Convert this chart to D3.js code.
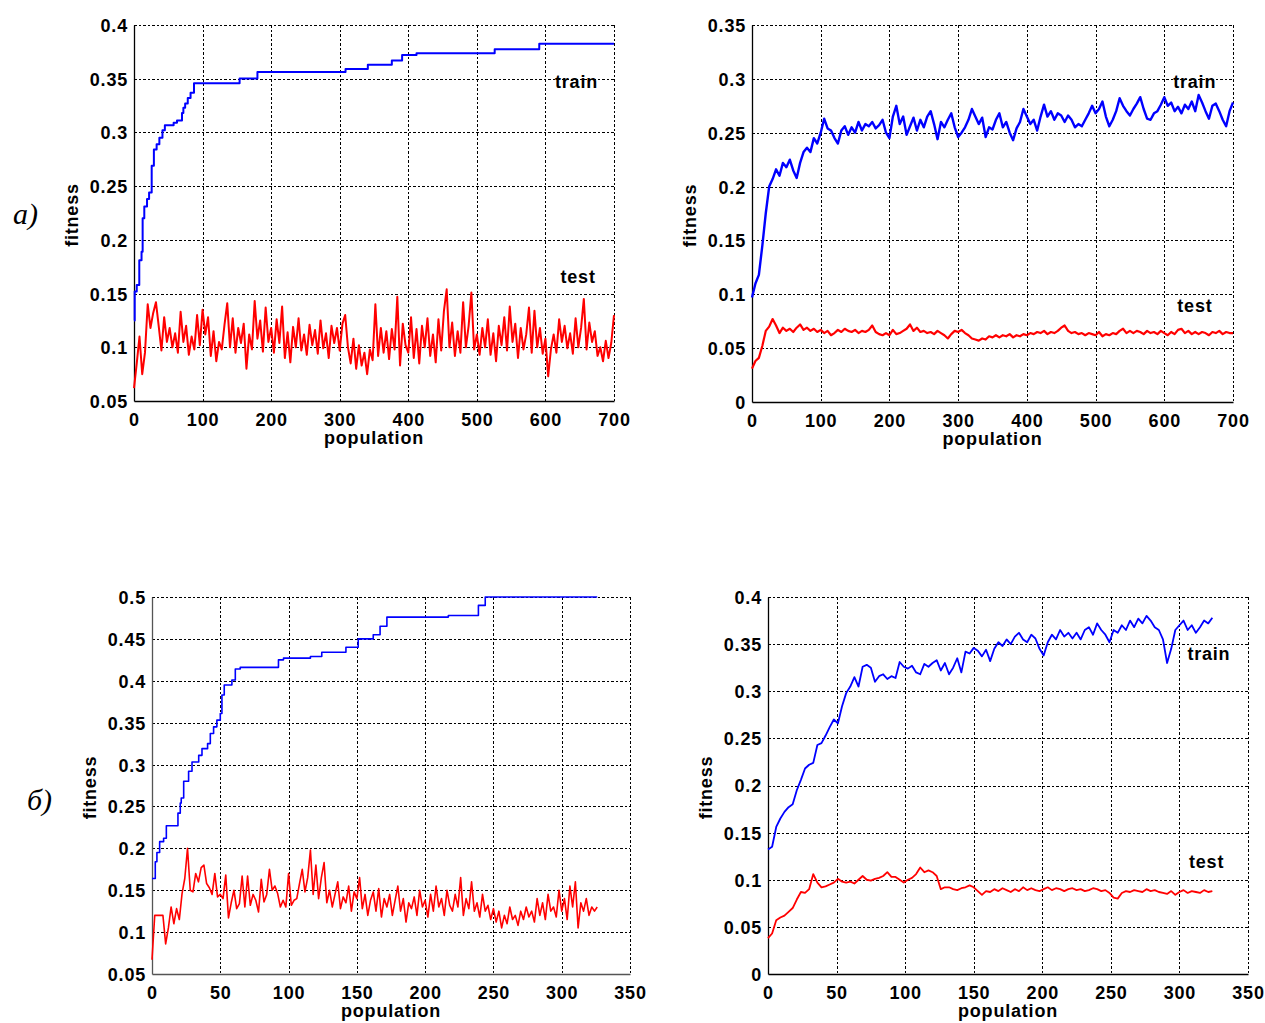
<!DOCTYPE html>
<html><head><meta charset="utf-8">
<script src="https://cdn.jsdelivr.net/npm/d3@7/dist/d3.min.js"></script>
<style>
body{margin:0;background:#fff;}
svg text{font-family:"Liberation Sans",Arial,sans-serif;font-weight:bold;font-size:18px;letter-spacing:0.8px;fill:#000;}
</style></head>
<body><svg id="c" width="1265" height="1023"></svg>
<script>
// ---------- DATA ----------
// Panel a) left: 700 generations
const p1TrainGen = [0,1,4,7.7,11,12.6,15,19,22,25.8,29,33,37,41.5,45,57.8,62.7,70,72,74.6,78.4,82.5,87.5,154,180,308.5,341,376,391,412,526,591,700];
const p1TrainVal = [0.125,0.152,0.158,0.181,0.189,0.22,0.231,0.238,0.244,0.269,0.284,0.289,0.295,0.302,0.3066,0.309,0.311,0.318,0.323,0.327,0.332,0.337,0.3457,0.3503,0.3562,0.359,0.363,0.367,0.372,0.3736,0.3774,0.3826,0.3826];
const p1TestStep = 4;
const p1TestVal = [
0.062,0.085,0.11,0.075,0.095,0.14,0.118,0.132,0.142,0.12,
0.097,0.128,0.105,0.118,0.1,0.113,0.095,0.133,0.105,0.12,
0.093,0.11,0.098,0.13,0.102,0.135,0.112,0.128,0.092,0.115,
0.087,0.105,0.098,0.121,0.141,0.1,0.127,0.095,0.118,0.104,
0.122,0.08,0.112,0.098,0.143,0.108,0.125,0.096,0.137,0.105,
0.118,0.095,0.126,0.104,0.138,0.09,0.114,0.086,0.119,0.1,
0.127,0.097,0.112,0.093,0.121,0.102,0.116,0.094,0.125,0.099,
0.113,0.09,0.12,0.104,0.118,0.097,0.122,0.13,0.1,0.085,
0.108,0.08,0.102,0.083,0.095,0.075,0.098,0.088,0.14,0.092,
0.118,0.095,0.115,0.089,0.117,0.098,0.147,0.083,0.122,0.102,
0.095,0.128,0.09,0.117,0.085,0.12,0.1,0.127,0.092,0.112,
0.086,0.126,0.097,0.134,0.154,0.1,0.123,0.092,0.115,0.095,
0.142,0.1,0.12,0.151,0.098,0.112,0.093,0.118,0.1,0.126,
0.093,0.113,0.087,0.12,0.102,0.128,0.097,0.138,0.105,0.122,
0.09,0.118,0.098,0.112,0.137,0.095,0.134,0.1,0.118,0.094,
0.108,0.073,0.098,0.112,0.095,0.126,0.105,0.12,0.099,0.113,
0.094,0.127,0.1,0.118,0.145,0.098,0.123,0.105,0.115,0.092,
0.1,0.087,0.106,0.09,0.104,0.13];

// Panel a) right
const p2TrainStep = 5;
const p2TrainVal = [
0.097,0.11,0.118,0.145,0.175,0.2,0.207,0.216,0.21,0.222,
0.218,0.225,0.215,0.208,0.222,0.232,0.236,0.232,0.245,0.24,
0.25,0.263,0.254,0.252,0.245,0.24,0.252,0.256,0.248,0.255,
0.25,0.26,0.252,0.258,0.256,0.26,0.254,0.257,0.262,0.25,
0.245,0.265,0.275,0.258,0.265,0.248,0.256,0.264,0.252,0.262,
0.255,0.265,0.27,0.258,0.244,0.26,0.255,0.262,0.268,0.255,
0.246,0.25,0.255,0.262,0.272,0.265,0.258,0.264,0.246,0.255,
0.253,0.262,0.268,0.255,0.26,0.25,0.243,0.254,0.26,0.272,
0.265,0.258,0.262,0.252,0.265,0.276,0.265,0.27,0.262,0.268,
0.266,0.26,0.266,0.262,0.255,0.258,0.256,0.262,0.268,0.275,
0.268,0.272,0.279,0.265,0.256,0.262,0.27,0.282,0.275,0.27,
0.266,0.272,0.277,0.283,0.272,0.263,0.262,0.268,0.27,0.276,
0.283,0.275,0.278,0.27,0.274,0.268,0.276,0.272,0.279,0.27,
0.285,0.278,0.27,0.263,0.275,0.277,0.27,0.262,0.256,0.27,
0.278];
const p2TestStep = 5;
const p2TestVal = [
0.031,0.038,0.041,0.052,0.066,0.07,0.077,0.071,0.064,0.069,
0.066,0.068,0.065,0.069,0.072,0.067,0.069,0.066,0.068,0.065,
0.067,0.064,0.066,0.062,0.064,0.067,0.065,0.068,0.066,0.065,
0.067,0.064,0.066,0.065,0.067,0.071,0.065,0.063,0.062,0.064,
0.062,0.067,0.063,0.064,0.066,0.068,0.072,0.066,0.069,0.065,
0.066,0.064,0.065,0.063,0.066,0.064,0.062,0.059,0.063,0.066,
0.065,0.067,0.064,0.062,0.059,0.058,0.057,0.059,0.058,0.061,
0.06,0.062,0.06,0.062,0.061,0.063,0.06,0.062,0.061,0.063,
0.062,0.064,0.063,0.065,0.064,0.066,0.063,0.065,0.064,0.066,
0.069,0.071,0.066,0.064,0.065,0.063,0.064,0.062,0.064,0.063,
0.062,0.065,0.061,0.063,0.062,0.064,0.063,0.066,0.068,0.064,
0.066,0.064,0.066,0.065,0.063,0.066,0.064,0.065,0.063,0.066,
0.064,0.062,0.065,0.063,0.067,0.068,0.064,0.066,0.063,0.065,
0.063,0.065,0.064,0.062,0.065,0.064,0.066,0.063,0.065,0.064,
0.064];

// Panel б) left: 326 generations
const p3TrainGen = [0,2.4,3.6,5.6,8.5,10.5,19,20.7,21.4,23.2,26.8,29.3,34.2,36.6,40.7,42.7,45.1,47.5,50,51.2,52.9,58.5,61,64.6,92.6,96.3,116,124.3,142,151,162,167,172,217,239,244,326];
const p3TrainVal = [0.164,0.184,0.195,0.208,0.212,0.227,0.242,0.254,0.26,0.28,0.292,0.303,0.311,0.319,0.325,0.337,0.345,0.353,0.361,0.383,0.395,0.401,0.414,0.416,0.425,0.427,0.429,0.434,0.44,0.45,0.455,0.465,0.476,0.478,0.49,0.5,0.5];
const p3TestStep = 2;
const p3TestVal = [
0.067,0.12,0.12,0.12,0.12,0.086,0.105,0.13,0.11,0.128,
0.115,0.146,0.164,0.2,0.15,0.148,0.17,0.16,0.177,0.18,
0.158,0.153,0.145,0.17,0.142,0.145,0.14,0.168,0.117,0.135,
0.15,0.128,0.134,0.167,0.13,0.167,0.132,0.145,0.138,0.124,
0.163,0.136,0.145,0.175,0.15,0.155,0.146,0.13,0.138,0.13,
0.17,0.132,0.138,0.14,0.158,0.175,0.148,0.165,0.198,0.145,
0.18,0.14,0.165,0.183,0.135,0.15,0.13,0.145,0.16,0.128,
0.142,0.135,0.155,0.125,0.148,0.14,0.165,0.128,0.145,0.12,
0.138,0.148,0.125,0.152,0.118,0.14,0.13,0.145,0.12,0.138,
0.155,0.125,0.14,0.112,0.135,0.128,0.142,0.12,0.15,0.13,
0.138,0.118,0.145,0.125,0.155,0.13,0.14,0.12,0.15,0.132,
0.125,0.145,0.13,0.165,0.12,0.14,0.128,0.16,0.125,0.135,
0.118,0.145,0.125,0.132,0.115,0.128,0.112,0.125,0.105,0.12,
0.11,0.13,0.115,0.12,0.108,0.125,0.115,0.13,0.118,0.125,
0.112,0.14,0.12,0.135,0.115,0.145,0.125,0.13,0.118,0.15,
0.125,0.14,0.115,0.155,0.13,0.16,0.105,0.135,0.125,0.14,
0.12,0.13,0.125,0.13];

// Panel б) right
const p4TrainStep = 3;
const p4TrainVal = [
0.132,0.135,0.156,0.165,0.172,0.177,0.18,0.195,0.206,0.218,
0.222,0.224,0.243,0.245,0.253,0.262,0.27,0.266,0.284,0.298,
0.305,0.315,0.305,0.326,0.328,0.325,0.31,0.316,0.318,0.313,
0.316,0.314,0.331,0.326,0.324,0.327,0.32,0.318,0.329,0.326,
0.33,0.333,0.322,0.33,0.318,0.325,0.335,0.32,0.342,0.34,
0.346,0.343,0.337,0.344,0.332,0.345,0.352,0.348,0.355,0.35,
0.358,0.362,0.355,0.352,0.36,0.356,0.345,0.338,0.352,0.36,
0.355,0.365,0.358,0.362,0.356,0.362,0.355,0.365,0.368,0.36,
0.372,0.365,0.36,0.352,0.365,0.362,0.37,0.365,0.375,0.368,
0.377,0.372,0.38,0.375,0.368,0.365,0.355,0.33,0.345,0.365,
0.37,0.375,0.365,0.37,0.362,0.368,0.375,0.372,0.378];
const p4TestStep = 3;
const p4TestVal = [
0.038,0.043,0.057,0.06,0.062,0.066,0.07,0.079,0.087,0.086,
0.09,0.106,0.097,0.092,0.093,0.095,0.097,0.101,0.098,0.097,
0.098,0.096,0.1,0.104,0.1,0.099,0.101,0.102,0.104,0.108,
0.103,0.103,0.1,0.097,0.1,0.102,0.106,0.113,0.108,0.11,
0.108,0.104,0.09,0.092,0.092,0.09,0.089,0.091,0.092,0.094,
0.092,0.088,0.084,0.088,0.087,0.09,0.088,0.091,0.089,0.087,
0.09,0.088,0.092,0.089,0.091,0.089,0.088,0.09,0.092,0.089,
0.091,0.09,0.088,0.09,0.091,0.089,0.09,0.088,0.089,0.091,
0.09,0.088,0.089,0.086,0.081,0.08,0.086,0.088,0.087,0.089,
0.088,0.087,0.09,0.088,0.089,0.087,0.086,0.085,0.088,0.084,
0.087,0.089,0.086,0.088,0.087,0.086,0.089,0.087,0.088];

const xTicks700 = [0,100,200,300,400,500,600,700];
const xTicks350 = [0,50,100,150,200,250,300,350];
const yTicks1 = [0.05,0.1,0.15,0.2,0.25,0.3,0.35,0.4];
const yTicks2 = [0,0.05,0.1,0.15,0.2,0.25,0.3,0.35];
const yTicks3 = [0.05,0.1,0.15,0.2,0.25,0.3,0.35,0.4,0.45,0.5];
const yTicks4 = [0,0.05,0.1,0.15,0.2,0.25,0.3,0.35,0.4];

// ---------- DRAW ----------
const svg = d3.select("#c");
const zipGen = (g, v) => g.map((x, i) => [x, v[i]]);
const zipStep = (s, v) => v.map((y, i) => [i * s, y]);

function panel(cfg) {
  const x = d3.scaleLinear().domain(cfg.xd).range([cfg.l, cfg.r]);
  const y = d3.scaleLinear().domain(cfg.yd).range([cfg.b, cfg.t]);
  const g = svg.append("g");
  const grid = g.append("g").attr("stroke", "#000").attr("stroke-width", 1).attr("stroke-dasharray", "2.5,2").attr("shape-rendering","crispEdges");
  cfg.xt.forEach(v => { if (v !== cfg.xd[0]) grid.append("line").attr("x1", Math.round(x(v))+0.5).attr("x2", Math.round(x(v))+0.5).attr("y1", cfg.t).attr("y2", cfg.b); });
  cfg.yt.forEach(v => { if (v !== cfg.yd[0]) grid.append("line").attr("y1", Math.round(y(v))+0.5).attr("y2", Math.round(y(v))+0.5).attr("x1", cfg.l).attr("x2", cfg.r); });
  const xa = d3.axisBottom(x).tickValues(cfg.xt).tickSize(0).tickPadding(8).tickFormat(d3.format("d"));
  const ya = d3.axisLeft(y).tickValues(cfg.yt).tickSize(0).tickPadding(6).tickFormat(d => d === 0 ? "0" : String(+d.toFixed(2)));
  const gx = g.append("g").attr("transform", `translate(0,${cfg.b})`).call(xa);
  const gy = g.append("g").attr("transform", `translate(${cfg.l},0)`).call(ya);
  [gx, gy].forEach(a => { a.selectAll("path").attr("stroke", cfg.axisColor || "#000").attr("stroke-width", 1.3); a.attr("font-size", null).attr("font-family", null); });
  gx.selectAll("text").attr("dy", "0.95em");
  gy.selectAll("text").attr("dy", "0.36em");
  cfg.series.forEach(s => {
    g.append("path").datum(s.data).attr("fill", "none").attr("stroke", s.color).attr("stroke-width", s.w)
      .attr("stroke-linejoin", "round")
      .attr("d", d3.line().x(d => x(d[0])).y(d => y(d[1])).curve(s.step ? d3.curveStepAfter : d3.curveLinear));
  });
  g.append("text").attr("x", (cfg.l + cfg.r) / 2).attr("y", cfg.b + 43).attr("text-anchor", "middle").text("population");
  g.append("text").attr("transform", `translate(${cfg.l - 56},${(cfg.t + cfg.b) / 2 + 2}) rotate(-90)`).attr("text-anchor", "middle").text("fitness");
  cfg.notes.forEach(n => g.append("text").attr("x", x(n[1])).attr("y", y(n[2])).text(n[0]));
}

panel({l:134, r:614, t:25, b:401, xd:[0,700], yd:[0.05,0.4], xt:xTicks700, yt:yTicks1,
  series:[{data:zipGen(p1TrainGen,p1TrainVal), color:"#0000ff", w:2, step:true},
          {data:zipStep(p1TestStep,p1TestVal), color:"#ff0000", w:2}],
  notes:[["train",614,0.3414],["test",622,0.16]]});
panel({l:752, r:1233, t:25, b:402, xd:[0,700], yd:[0,0.35], xt:xTicks700, yt:yTicks2,
  series:[{data:zipStep(p2TrainStep,p2TrainVal), color:"#0000ff", w:2.4},
          {data:zipStep(p2TestStep,p2TestVal), color:"#ff0000", w:2.2}],
  notes:[["train",613,0.2915],["test",619,0.0836]]});
panel({l:152, r:630, t:597, b:974, xd:[0,350], yd:[0.05,0.5], xt:xTicks350, yt:yTicks3, axisColor:"#555",
  series:[{data:zipGen(p3TrainGen,p3TrainVal), color:"#0000ff", w:1.6, step:true},
          {data:zipStep(p3TestStep,p3TestVal), color:"#ff0000", w:1.6}],
  notes:[]});
panel({l:768, r:1248, t:597, b:974, xd:[0,350], yd:[0,0.4], xt:xTicks350, yt:yTicks4,
  series:[{data:zipStep(p4TrainStep,p4TrainVal), color:"#0000ff", w:1.8},
          {data:zipStep(p4TestStep,p4TestVal), color:"#ff0000", w:1.8}],
  notes:[["train",305.8,0.333],["test",307,0.1125]]});

svg.append("text").attr("x", 13).attr("y", 224).style("font-family", "'Liberation Serif','Times New Roman',serif")
  .style("font-style", "italic").style("font-weight", "normal").style("font-size", "30px").style("letter-spacing", "0").text("а)");
svg.append("text").attr("x", 27).attr("y", 810).style("font-family", "'Liberation Serif','Times New Roman',serif")
  .style("font-style", "italic").style("font-weight", "normal").style("font-size", "30px").style("letter-spacing", "0").text("б)");
</script></body></html>
